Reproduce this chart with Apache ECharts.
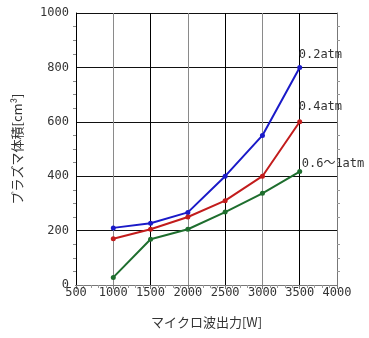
<!DOCTYPE html>
<html>
<head>
<meta charset="utf-8">
<script src="https://cdn.jsdelivr.net/npm/echarts@6/dist/echarts.min.js"></script>
<style>html,body{margin:0;padding:0;background:#fff;}#c{width:369px;height:338px;}</style>
</head>
<body>
<div id="c"></div>
<script>
const power = [1000, 1500, 2000, 2500, 3000, 3500];
const atm02 = [210, 227, 267, 400, 550, 800];
const atm04 = [170, 205, 250, 310, 400, 600];
const atm06 = [28, 168, 205, 268, 337, 417];
const seriesNames = ['0.2atm', '0.4atm', '0.6～1atm'];
const xName = 'マイクロ波出力[W]';
const yName = 'プラズマ体積[cm³]';

const mono = 'DejaVu Sans Mono, Noto Sans CJK JP, monospace';
const chart = echarts.init(document.getElementById('c'));
function pairs(v){ return power.map((p,i)=>[p, v[i]]); }
const colors = ['#1a1ac8', '#c21c1c', '#1e6e2e'];
const vals = [atm02, atm04, atm06];
const offs = [[-6,-13],[-6,-15],[-3,-8]];
const plain = v => String(v);

chart.setOption({
  backgroundColor: '#fff',
  animation: false,
  grid: {left: 76, right: 32, top: 13, bottom: 53},
  xAxis: [{
    type: 'value', min: 500, max: 4000, interval: 500,
    name: xName, nameLocation: 'middle', nameGap: 31,
    nameTextStyle: {fontFamily: 'Noto Sans CJK JP', fontSize: 13, color: '#333'},
    axisLine: {show: true, lineStyle: {color: '#000', width: 1}},
    axisTick: {show: false},
    minorTick: {show: true, splitNumber: 5, length: 3, lineStyle: {color: '#777'}},
    axisLabel: {margin: 2, fontFamily: mono, fontSize: 12, color: '#333', formatter: plain},
    splitLine: {show: true, lineStyle: {color: ['#000', '#8a8a8a'], width: 1}}
  }, {
    type: 'value', position: 'top', min: 500, max: 4000, interval: 500,
    axisLine: {show: true, lineStyle: {color: '#777'}},
    axisTick: {show: true, inside: true, length: 4, lineStyle: {color: '#777'}},
    minorTick: {show: true, splitNumber: 5, length: 3, lineStyle: {color: '#999'}},
    axisLabel: {show: false}, splitLine: {show: false}
  }],
  yAxis: [{
    type: 'value', min: 0, max: 1000, interval: 200,
    name: yName, nameLocation: 'middle', nameGap: 52, nameRotate: 90,
    nameTextStyle: {fontFamily: 'Noto Sans CJK JP', fontSize: 13, color: '#333'},
    axisLine: {show: true, lineStyle: {color: '#000', width: 1}},
    axisTick: {show: false},
    minorTick: {show: true, splitNumber: 4, length: 3, lineStyle: {color: '#888'}},
    axisLabel: {margin: 7, fontFamily: mono, fontSize: 12, color: '#333', padding: [0,0,5,0], formatter: plain},
    splitLine: {show: true, lineStyle: {color: '#111', width: 1}}
  }, {
    type: 'value', position: 'right', min: 0, max: 1000, interval: 200,
    axisLine: {show: true, lineStyle: {color: '#777'}},
    axisTick: {show: false},
    minorTick: {show: true, splitNumber: 4, length: 3, lineStyle: {color: '#999'}},
    axisLabel: {show: false}, splitLine: {show: false}
  }],
  series: seriesNames.map((n, i) => ({
    name: n, type: 'line', data: pairs(vals[i]),
    symbol: 'circle', symbolSize: 5,
    lineStyle: {color: colors[i], width: 2},
    itemStyle: {color: colors[i]},
    endLabel: {show: true, formatter: n, offset: offs[i], distance: 5,
      fontFamily: mono, fontSize: 12, color: '#333'}
  }))
});
</script>
</body>
</html>
